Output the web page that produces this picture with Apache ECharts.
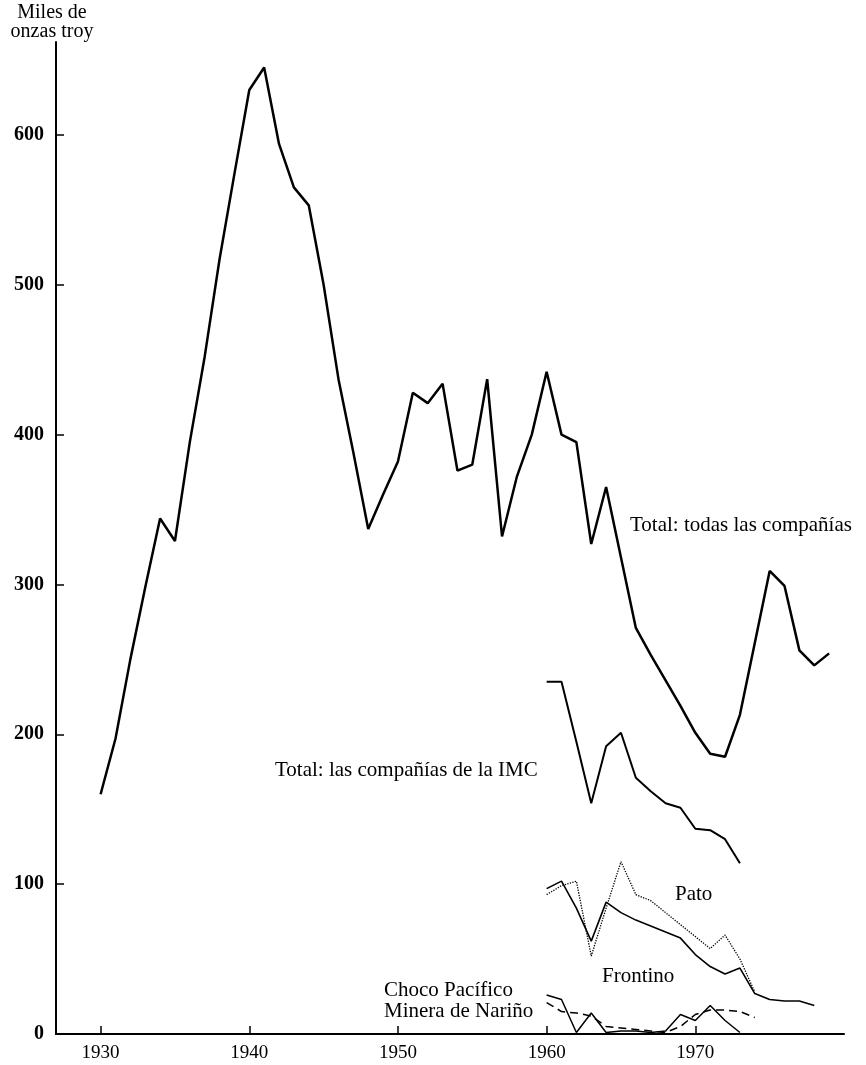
<!DOCTYPE html>
<html lang="es">
<head>
    <meta charset="UTF-8">
    <title>Producción de oro</title>
    <script src="https://cdn.jsdelivr.net/npm/echarts@6/dist/echarts.min.js"></script>
    <style>
        html, body { margin: 0; padding: 0; background: #fff; }
        #chart { width: 866px; height: 1065px; }
    </style>
</head>
<body>
<div id="chart"></div>

<script>
    // años y valores (miles de onzas troy)
    var totalYears = [1930, 1931, 1932, 1933, 1934, 1935, 1936, 1937, 1938, 1939,
        1940, 1941, 1942, 1943, 1944, 1945, 1946, 1947, 1948, 1949,
        1950, 1951, 1952, 1953, 1954, 1955, 1956, 1957, 1958, 1959,
        1960, 1961, 1962, 1963, 1964, 1965, 1966, 1967, 1968, 1969,
        1970, 1971, 1972, 1973, 1974, 1975, 1976, 1977, 1978, 1979];
    var totalValues = [160, 197, 250, 298, 344, 329, 395, 452, 517, 574,
        630, 645, 594, 565, 553, 500, 437, 388, 337, 360,
        382, 428, 421, 434, 376, 380, 437, 332, 372, 400,
        442, 400, 395, 327, 365, 318, 271, 253, 236, 219,
        201, 187, 185, 213, 261, 309, 299, 256, 246, 254];

    var imcYears = [1960, 1961, 1962, 1963, 1964, 1965, 1966, 1967, 1968, 1969, 1970, 1971, 1972, 1973];
    var imcValues = [235, 235, 195, 154, 192, 201, 171, 162, 154, 151, 137, 136, 130, 114];

    var frontinoYears = [1960, 1961, 1962, 1963, 1964, 1965, 1966, 1967, 1968, 1969,
        1970, 1971, 1972, 1973, 1974, 1975, 1976, 1977, 1978];
    var frontinoValues = [97, 102, 84, 62, 88, 81, 76, 72, 68, 64,
        53, 45, 40, 44, 27, 23, 22, 22, 19];

    var patoYears = [1960, 1961, 1962, 1963, 1964, 1965, 1966, 1967, 1968, 1969, 1970, 1971, 1972, 1973, 1974];
    var patoValues = [93, 99, 102, 52, 84, 115, 93, 89, 81, 73, 65, 57, 66, 50, 28];

    var chocoYears = [1960, 1961, 1962, 1963, 1964, 1965, 1966, 1967, 1968, 1969, 1970, 1971, 1972, 1973];
    var chocoValues = [26, 23, 1, 14, 1, 2, 2, 1, 2, 13, 9, 19, 9, 1];

    var narinoYears = [1960, 1961, 1962, 1963, 1964, 1965, 1966, 1967, 1968, 1969, 1970, 1971, 1972, 1973, 1974];
    var narinoValues = [21, 15, 14, 12, 5, 4, 3, 2, 1, 5, 13, 16, 16, 15, 11];

    var xTicks = [1930, 1940, 1950, 1960, 1970];
    var yTicks = [0, 100, 200, 300, 400, 500, 600];

    function pairs(xs, ys) {
        return xs.map(function (x, i) { return [x, ys[i]]; });
    }

    var serif = '"Liberation Serif", "DejaVu Serif", serif';

    function lineSeries(name, xs, ys, width, type) {
        return {
            name: name,
            type: 'line',
            data: pairs(xs, ys),
            symbol: 'none',
            silent: true,
            lineStyle: {color: '#000', width: width, type: type || 'solid'}
        };
    }

    var chart = echarts.init(document.getElementById('chart'));

    var option = {
        backgroundColor: '#fff',
        animation: false,
        grid: {left: 56, right: 22, top: 42, bottom: 31},
        xAxis: {
            type: 'value',
            min: 1927,
            max: 1980,
            splitLine: {show: false},
            axisLine: {lineStyle: {color: '#000', width: 2}},
            axisTick: {inside: true, length: 8, customValues: xTicks, lineStyle: {color: '#000', width: 1.5}},
            axisLabel: {
                customValues: xTicks, color: '#000', fontFamily: serif, fontSize: 19, margin: 10,
                formatter: function (v) { return String(v); }
            }
        },
        yAxis: {
            type: 'value',
            min: 0,
            max: 662,
            splitLine: {show: false},
            axisLine: {show: true, lineStyle: {color: '#000', width: 2}},
            axisTick: {show: true, inside: true, length: 8, customValues: yTicks, lineStyle: {color: '#000', width: 1.5}},
            axisLabel: {customValues: yTicks, color: '#000', fontFamily: serif, fontSize: 20, fontWeight: 'bold', margin: 12}
        },
        graphic: [
            {type: 'text', x: 52, y: 3, style: {text: 'Miles de\nonzas troy', font: '20px ' + serif, fill: '#000', align: 'center', lineHeight: 19}},
            {type: 'text', left: 630, top: 515, style: {text: 'Total: todas las compañías', font: '21px ' + serif, fill: '#000'}},
            {type: 'text', left: 275, top: 760, style: {text: 'Total: las compañías de la IMC', font: '21px ' + serif, fill: '#000'}},
            {type: 'text', left: 675, top: 884, style: {text: 'Pato', font: '21px ' + serif, fill: '#000'}},
            {type: 'text', left: 602, top: 966, style: {text: 'Frontino', font: '21px ' + serif, fill: '#000'}},
            {type: 'text', left: 384, top: 980, style: {text: 'Choco Pacífico', font: '21px ' + serif, fill: '#000'}},
            {type: 'text', left: 384, top: 1001, style: {text: 'Minera de Nariño', font: '21px ' + serif, fill: '#000'}}
        ],
        series: [
            lineSeries('Total: todas las compañías', totalYears, totalValues, 2.5),
            lineSeries('Total: las compañías de la IMC', imcYears, imcValues, 2),
            lineSeries('Frontino', frontinoYears, frontinoValues, 1.6),
            lineSeries('Pato', patoYears, patoValues, 1.3, 'dotted'),
            lineSeries('Choco Pacífico', chocoYears, chocoValues, 1.5),
            lineSeries('Minera de Nariño', narinoYears, narinoValues, 1.5, [8, 5])
        ]
    };

    chart.setOption(option);
</script>
</body>
</html>
